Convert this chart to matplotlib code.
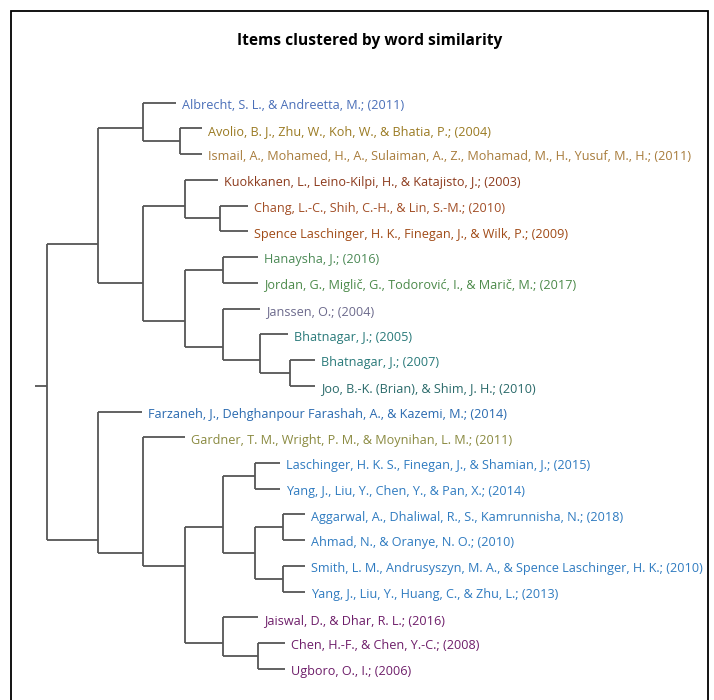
import numpy as np
import matplotlib.pyplot as plt
from matplotlib.patches import Rectangle

# leaves, top to bottom
labels = [
    "Albrecht, S. L., & Andreetta, M.; (2011)",
    "Avolio, B. J., Zhu, W., Koh, W., & Bhatia, P.; (2004)",
    "Ismail, A., Mohamed, H., A., Sulaiman, A., Z., Mohamad, M., H., Yusuf, M., H.; (2011)",
    "Kuokkanen, L., Leino-Kilpi, H., & Katajisto, J.; (2003)",
    "Chang, L.-C., Shih, C.-H., & Lin, S.-M.; (2010)",
    "Spence Laschinger, H. K., Finegan, J., & Wilk, P.; (2009)",
    "Hanaysha, J.; (2016)",
    "Jordan, G., Miglič, G., Todorović, I., & Marič, M.; (2017)",
    "Janssen, O.; (2004)",
    "Bhatnagar, J.; (2005)",
    "Bhatnagar, J.; (2007)",
    "Joo, B.-K. (Brian), & Shim, J. H.; (2010)",
    "Farzaneh, J., Dehghanpour Farashah, A., & Kazemi, M.; (2014)",
    "Gardner, T. M., Wright, P. M., & Moynihan, L. M.; (2011)",
    "Laschinger, H. K. S., Finegan, J., & Shamian, J.; (2015)",
    "Yang, J., Liu, Y., Chen, Y., & Pan, X.; (2014)",
    "Aggarwal, A., Dhaliwal, R., S., Kamrunnisha, N.; (2018)",
    "Ahmad, N., & Oranye, N. O.; (2010)",
    "Smith, L. M., Andrusyszyn, M. A., & Spence Laschinger, H. K.; (2010)",
    "Yang, J., Liu, Y., Huang, C., & Zhu, L.; (2013)",
    "Jaiswal, D., & Dhar, R. L.; (2016)",
    "Chen, H.-F., & Chen, Y.-C.; (2008)",
    "Ugboro, O., I.; (2006)",
]

label_colors = [
    "#4a6fb8", "#9a7a22", "#a87c3c", "#8c3a1c", "#a24e26", "#a04a16",
    "#4c8a56", "#4c8a4a", "#6c6a8c", "#2a7a7a", "#2a7a7a", "#2a6a6a",
    "#2a6ab0", "#8a8a40", "#2f7bc0", "#2f7bc0", "#2f7bc0", "#2f7bc0",
    "#2f7bc0", "#2f7bc0", "#6e1e6a", "#6e1e6a", "#6e1e6a",
]

# where each leaf branch ends
leaf_levels = [
    0.516, 0.62, 0.62, 0.685, 0.805, 0.805, 0.845, 0.845, 0.853, 0.966,
    1.073, 1.073, 0.38, 0.553, 0.933, 0.933, 1.033, 1.033, 1.033, 1.033,
    0.846, 0.953, 0.953,
]

# merges (child a, child b, level); new nodes numbered from 23 upward
merges = [
    (1, 2, 0.533),
    (0, 23, 0.384),
    (4, 5, 0.693),
    (3, 25, 0.553),
    (6, 7, 0.706),
    (10, 11, 0.973),
    (9, 28, 0.853),
    (8, 29, 0.706),
    (27, 30, 0.553),
    (26, 31, 0.384),
    (24, 32, 0.204),
    (14, 15, 0.833),
    (16, 17, 0.944),
    (18, 19, 0.944),
    (35, 36, 0.833),
    (34, 37, 0.706),
    (21, 22, 0.846),
    (20, 39, 0.706),
    (38, 40, 0.553),
    (13, 41, 0.386),
    (12, 42, 0.204),
    (33, 43, 0.0),
]

n = len(labels)
node_x = list(leaf_levels)
node_y = list(range(n))
members = [[i] for i in range(n)]

fig = plt.figure(figsize=(7.14, 7.0), dpi=100)
ax = fig.add_axes([0, 0, 1, 1])
line_kw = dict(color="#555555", lw=1.3, solid_capstyle="butt")

for a, b, lvl in merges:
    leaves = members[a] + members[b]
    y = np.mean(leaves)
    ax.plot([lvl, lvl], [node_y[a], node_y[b]], **line_kw)
    for c in (a, b):
        ax.plot([lvl, node_x[c]], [node_y[c], node_y[c]], **line_kw)
    members.append(leaves)
    node_x.append(lvl)
    node_y.append(y)

# short stub left of the root
ax.plot([-0.047, node_x[-1]], [node_y[-1], node_y[-1]], **line_kw)

for i, lab in enumerate(labels):
    ax.annotate(lab, (leaf_levels[i], i), xytext=(4.5, -2), textcoords="offset points",
                ha="left", va="center", fontsize=9.05, family="Open Sans",
                color=label_colors[i])

ax.set_xlim(-0.1868, 2.669)
ax.set_ylim(23.21, -3.99)
ax.axis("off")

fig.text(0.518, 1 - 41 / 700, "Items clustered by word similarity", ha="center", va="center",
         fontsize=11.2, fontweight="bold", family="Open Sans")

fig.patches.append(Rectangle((11 / 714, -0.01), 697 / 714, 1 - 11 / 700 + 0.01,
                             transform=fig.transFigure, fill=False, ec="black", lw=1.3))

fig.savefig("out.png", dpi=100)
